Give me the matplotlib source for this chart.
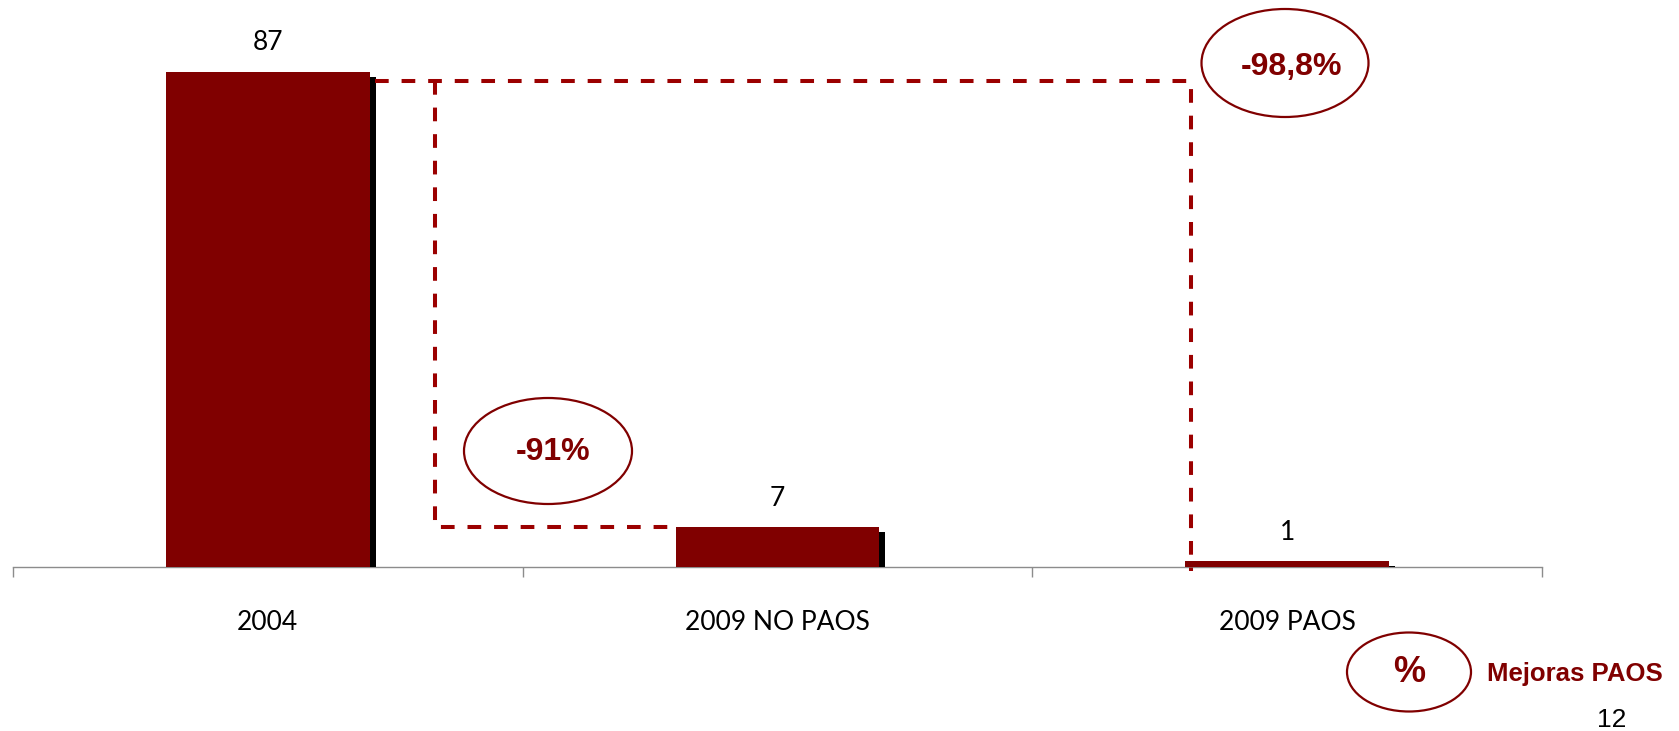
import matplotlib
matplotlib.use("Agg")
import matplotlib.pyplot as plt
from matplotlib.patches import Ellipse
import matplotlib.patheffects as pe

# ---- data ----
categories = ["2004", "2009 NO PAOS", "2009 PAOS"]
values = [87, 7, 1]
change_labels = ["-91%", "-98,8%"]
legend_symbol = "%"
legend_label = "Mejoras PAOS"
page_number = "12"

BAR = "#800000"
DASH = "#9b0000"
TXT = "#800000"

W, H = 1679, 731
fig = plt.figure(figsize=(W / 100, H / 100), dpi=100)
base_px = 567
left_px, right_px = 13, 1542
ymax = 95
ax_h_px = 495 / 87 * ymax
ax = fig.add_axes([left_px / W, 1 - base_px / H, (right_px - left_px) / W, ax_h_px / H])
ax.set_xlim(-0.5, 2.5)
ax.set_ylim(0, ymax)

x = list(range(len(categories)))
bars = ax.bar(x, values, width=0.4, color=BAR, edgecolor="none", zorder=3)
for b in bars:
    b.set_path_effects([pe.SimplePatchShadow(offset=(4.3, -3.6), shadow_rgbFace="black", alpha=1.0),
                        pe.Normal()])

ax.bar_label(bars, labels=[str(v) for v in values], padding=12, fontsize=19,
             family=["Lato", "DejaVu Sans"], color="black")

for s in ["left", "right", "top"]:
    ax.spines[s].set_visible(False)
ax.spines["bottom"].set_color("#8c8c8c")
ax.spines["bottom"].set_linewidth(1.0)
ax.set_yticks([])
ax.set_xticks(x)
ax.set_xticklabels(categories, fontsize=19, family=["Lato", "DejaVu Sans"])
ax.tick_params(axis="x", which="major", length=0, pad=31)
ax.set_xticks([-0.5, 0.5, 1.5, 2.5], minor=True)
ax.tick_params(axis="x", which="minor", length=7.5, width=1.0, color="#8c8c8c")

# dashed connectors
ytop = values[0] - 1.6
dkw = dict(color=DASH, lw=2.9, dashes=(3.4, 3.2), clip_on=False, zorder=4,
           solid_capstyle="butt", dash_capstyle="butt")
ax.plot([0.21, 1.811, 1.811], [ytop, ytop, -0.7], **dkw)
ax.plot([0.328, 0.328, 0.8], [ytop, values[1], values[1]], **dkw)

# ellipses & labels (figure pixel coordinates)
def px(xp, yp):
    return (xp / 100, (H - yp) / 100)

def ell(cx, cy, w, h):
    e = Ellipse(px(cx, cy), w / 100, h / 100, transform=fig.dpi_scale_trans,
                facecolor="none", edgecolor=BAR, lw=1.6)
    fig.add_artist(e)

ell(548, 451, 168, 106)
fig.text(*px(553, 452), change_labels[0], transform=fig.dpi_scale_trans, ha="center", va="center",
         fontsize=23, fontweight="bold", family="Liberation Sans", color=TXT)
ell(1285, 63, 167, 108)
fig.text(*px(1291, 67), change_labels[1], transform=fig.dpi_scale_trans, ha="center", va="center",
         fontsize=23, fontweight="bold", family="Liberation Sans", color=TXT)
ell(1409, 672, 124, 79)
fig.text(*px(1409, 673), legend_symbol, transform=fig.dpi_scale_trans, ha="center", va="center",
         fontsize=26, fontweight="bold", family="Liberation Sans", color=TXT)
fig.text(*px(1487, 674), legend_label, transform=fig.dpi_scale_trans, ha="left", va="center",
         fontsize=18.5, fontweight="bold", family="Liberation Sans", color=TXT)
fig.text(*px(1612, 720), page_number, transform=fig.dpi_scale_trans, ha="center", va="center",
         fontsize=19, family="Liberation Sans", color="black")

fig.savefig("out.png", dpi=100, facecolor="white")
